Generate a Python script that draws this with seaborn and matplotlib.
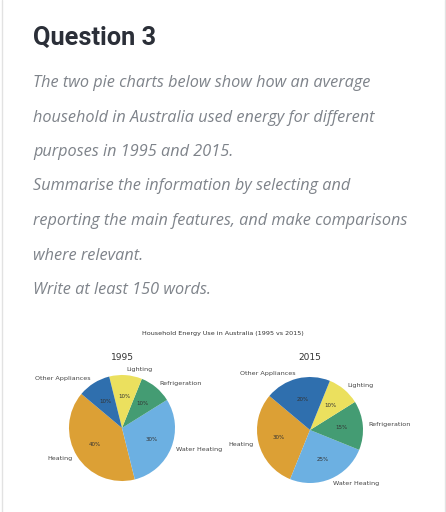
import matplotlib
matplotlib.use("Agg")
import matplotlib.pyplot as plt
import seaborn as sns
from matplotlib.lines import Line2D

# data
categories = ["Heating", "Water Heating", "Refrigeration", "Lighting", "Other Appliances"]
share_1995 = [40, 30, 10, 10, 10]
share_2015 = [30, 25, 15, 10, 20]
years = ["1995", "2015"]
colors = ["#dca035", "#6cb0e2", "#449c73", "#ebe05e", "#2f6fae"]

question = "Question 3"
prompt_lines = [
    "The two pie charts below show how an average",
    "household in Australia used energy for different",
    "purposes in 1995 and 2015.",
    "Summarise the information by selecting and",
    "reporting the main features, and make comparisons",
    "where relevant.",
    "Write at least 150 words.",
]

sns.set_theme(style="white")
plt.rcParams["font.family"] = ["DejaVu Sans"]

W, H = 446, 512
fig = plt.figure(figsize=(W / 100, H / 100), dpi=100)
fig.patch.set_facecolor("white")

def fx(px):
    return px / W

def fy(py):
    return 1 - py / H

# card borders
fig.add_artist(Line2D([fx(1.5), fx(1.5)], [0, 1], color="#e2e2e2", lw=1))
fig.add_artist(Line2D([fx(444.5), fx(444.5)], [0, 1], color="#e2e2e2", lw=1))

# heading and prompt
fig.text(fx(33), fy(45), question, fontsize=18.3, fontweight="bold",
         family="Roboto", color="#2b2f38", va="baseline")
for i, line in enumerate(prompt_lines):
    fig.text(fx(33), fy(87 + i * 34.5), line, fontsize=11.7, style="italic",
             family="Open Sans", color="#7e838a", va="baseline")

# charts
fig.text(fx(223), fy(334), "Household Energy Use in Australia (1995 vs 2015)",
         fontsize=4.6, color="#333333", ha="center", va="center")

centers = [(122, 428), (310, 430)]
r = 53
for (cx, cy), year, vals in zip(centers, years, [share_1995, share_2015]):
    ax = fig.add_axes([fx(cx - r), fy(cy + r), (2 * r) / W, (2 * r) / H])
    wedges, texts, autotexts = ax.pie(
        vals, labels=categories, colors=colors, startangle=140,
        autopct="%1.0f%%", labeldistance=1.1, pctdistance=0.6,
        textprops={"fontsize": 4.6, "color": "#444444"},
        wedgeprops={"linewidth": 0},
    )
    for t in autotexts:
        t.set_fontsize(4.0)
        t.set_color("#333333")
    ax.set_xlim(-1, 1)
    ax.set_ylim(-1, 1)
    ax.set_aspect("equal")
    fig.text(fx(cx), fy(357), year, fontsize=6.5, color="#333333",
             ha="center", va="center")

fig.savefig("out.png", dpi=100)
